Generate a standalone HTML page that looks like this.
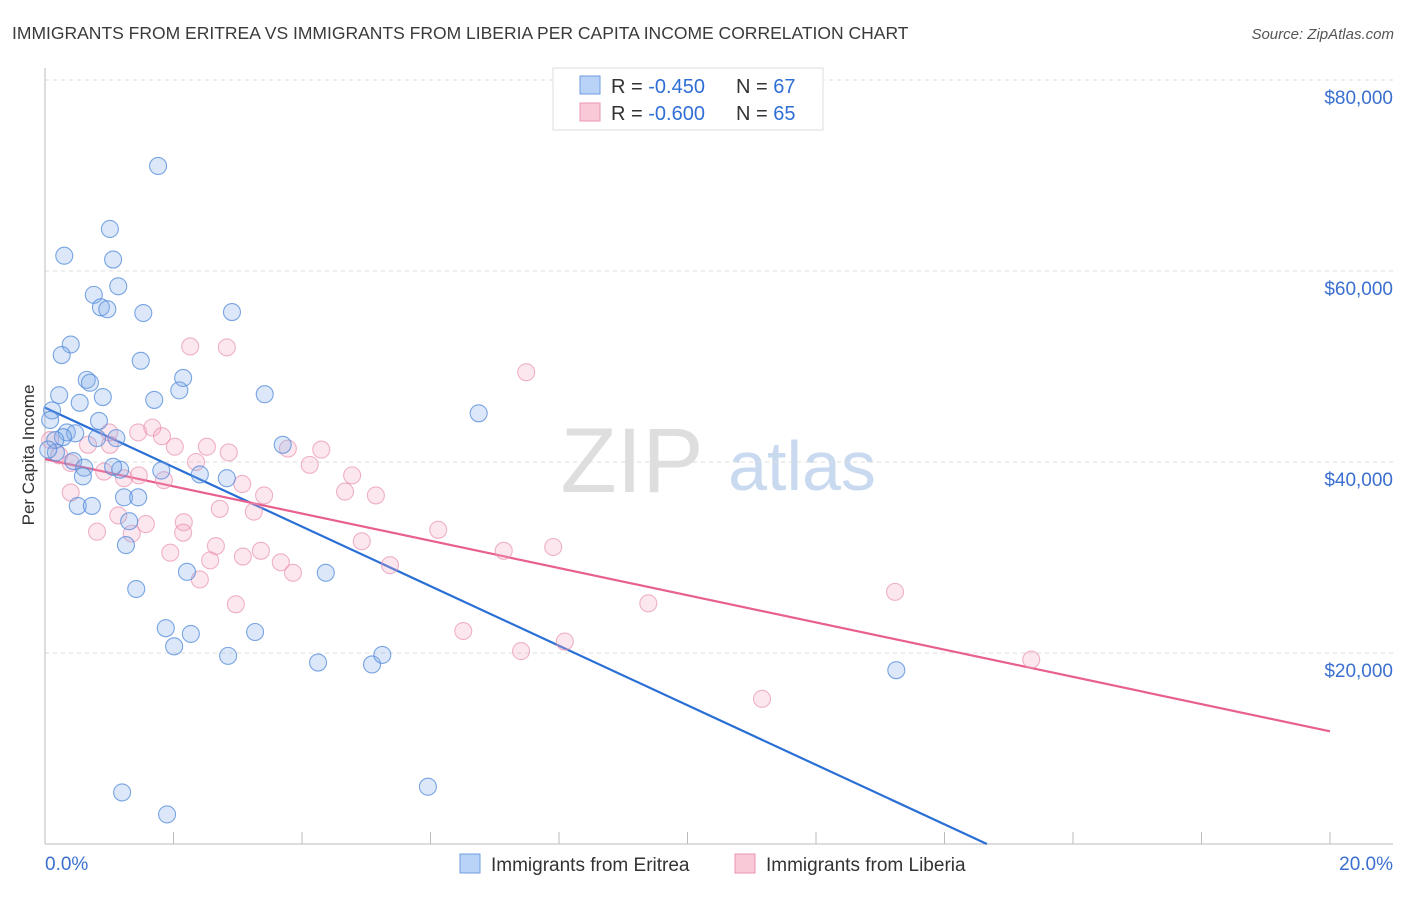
<!DOCTYPE html>
<html><head><meta charset="utf-8"><style>
body{margin:0;background:#fff;font-family:"Liberation Sans",sans-serif;}
svg text{font-family:"Liberation Sans",sans-serif;}
</style></head><body>
<svg id="chart" width="1406" height="892" xmlns="http://www.w3.org/2000/svg">
<text x="12" y="39" font-size="17.5" fill="#3a3a3a">IMMIGRANTS FROM ERITREA VS IMMIGRANTS FROM LIBERIA PER CAPITA INCOME CORRELATION CHART</text>
<text x="1394" y="39" font-size="15" fill="#555" text-anchor="end" font-style="italic">Source: ZipAtlas.com</text>
<text transform="translate(34,455) rotate(-90)" font-size="17" fill="#333" text-anchor="middle">Per Capita Income</text>
<g>
<text x="632" y="492" font-size="92" fill="#dedede" text-anchor="middle" font-family="Liberation Serif">ZIP</text>
<text x="802" y="490" font-size="70" fill="#c9daf0" text-anchor="middle">atlas</text>
</g>
<g id="grid"></g><g id="axes"></g><g id="lines"></g><g id="points"></g>
<g>
<rect x="553" y="68" width="270" height="62" fill="#fff" stroke="#ddd"/>
<rect x="580" y="76" width="20" height="18" fill="#b9d3f6" stroke="#6f9ee0"/>
<text x="611" y="93" font-size="20" fill="#333">R = <tspan fill="#2f6fd6">-0.450</tspan></text>
<text x="736" y="93" font-size="20" fill="#333">N = <tspan fill="#2f6fd6">67</tspan></text>
<rect x="580" y="103" width="20" height="18" fill="#f9c9d8" stroke="#e994b1"/>
<text x="611" y="120" font-size="20" fill="#333">R = <tspan fill="#2f6fd6">-0.600</tspan></text>
<text x="736" y="120" font-size="20" fill="#333">N = <tspan fill="#2f6fd6">65</tspan></text>
</g>
<g>
<rect x="460" y="854" width="20" height="19" fill="#b9d3f6" stroke="#6f9ee0"/>
<text x="491" y="871" font-size="19" fill="#333">Immigrants from Eritrea</text>
<rect x="735" y="854" width="20" height="19" fill="#f9c9d8" stroke="#e994b1"/>
<text x="766" y="871" font-size="19" fill="#333">Immigrants from Liberia</text>
</g>
</svg>
<script>
const yTicks=[20000,40000,60000,80000];
const yTickLabels=["$20,000","$40,000","$60,000","$80,000"];
const xTicks=[0,2,4,6,8,10,12,14,16,18,20];
const eritreaX=[1.76,0.30,1.01,1.06,1.14,0.76,0.87,0.97,1.53,2.91,0.40,0.26,1.49,0.65,2.15,0.70,2.09,1.70,0.90,3.42,0.22,0.54,0.11,0.08,0.84,6.75,0.34,0.47,0.28,0.81,1.11,3.70,0.16,0.17,0.44,0.61,0.59,1.17,1.81,2.41,2.83,1.23,1.45,0.51,0.73,1.31,1.26,1.42,2.21,4.37,1.88,2.27,2.01,3.27,2.85,4.25,5.09,5.25,13.25,1.20,5.96,1.90,0.05,1.06];
const eritreaY=[71.0,61.6,64.4,61.2,58.4,57.5,56.2,56.0,55.6,55.7,52.3,51.2,50.6,48.6,48.8,48.3,47.5,46.5,46.8,47.1,47.0,46.2,45.4,44.4,44.3,45.1,43.1,43.0,42.6,42.5,42.5,41.8,42.3,41.0,40.1,39.4,38.5,39.2,39.1,38.7,38.3,36.3,36.3,35.4,35.4,33.8,31.3,26.7,28.5,28.4,22.6,22.0,20.7,22.2,19.7,19.0,18.8,19.8,18.2,5.4,6.0,3.1,41.3,39.5];
const liberiaX=[2.26,2.83,7.49,0.08,0.22,0.40,0.67,1.01,1.00,1.45,1.67,1.82,2.02,2.52,2.86,2.35,3.78,4.30,4.12,4.78,3.07,1.85,1.23,0.92,1.46,0.40,3.41,5.15,4.67,1.14,1.57,2.16,2.72,3.25,0.81,1.35,1.95,2.66,3.36,4.93,6.12,7.14,7.91,2.57,3.08,3.67,3.86,2.41,5.37,9.39,2.97,6.51,7.41,8.09,13.23,15.35,11.16,2.15];
const liberiaY=[52.1,52.0,49.4,42.3,40.7,39.9,41.8,41.8,43.1,43.1,43.6,42.7,41.6,41.6,41.0,40.0,41.4,41.3,39.7,38.6,37.7,38.1,38.3,39.0,38.6,36.8,36.5,36.5,36.9,34.4,33.5,33.7,35.1,34.8,32.7,32.5,30.5,31.2,30.7,31.7,32.9,30.7,31.1,29.7,30.1,29.5,28.4,27.7,29.2,25.2,25.1,22.3,20.2,21.2,26.4,19.3,15.2,32.6];
const eritreaTrendX=[0,14.66];
const eritreaTrendY=[45.7,0];
const liberiaTrendX=[0,20];
const liberiaTrendY=[40.3,11.8];

const NS="http://www.w3.org/2000/svg";
const sx=v=>45+v/20*1285;
const sy=v=>844-v/80000*764;
const syk=v=>sy(v*1000);
function mk(tag,attrs,parent){const e=document.createElementNS(NS,tag);for(const k in attrs)e.setAttribute(k,attrs[k]);document.getElementById(parent).appendChild(e);return e;}
yTicks.forEach((t,i)=>{
 const g=mk('line',{x1:45,x2:1393,y1:sy(t),y2:sy(t),stroke:'#ddd','stroke-dasharray':'4,4'},'grid');
 
 
 const l=mk('text',{x:1393,y:sy(t)+24,'font-size':19,fill:'#3b6fd0','text-anchor':'end'},'axes');
 l.textContent=yTickLabels[i];
 
 
});
const ax=mk('line',{x1:45,x2:1393,y1:844,y2:844,stroke:'#bbb'},'axes');


const ay=mk('line',{x1:45,x2:45,y1:68,y2:844,stroke:'#bbb'},'axes');


xTicks.forEach(t=>{
 const tk=mk('line',{x1:sx(t),x2:sx(t),y1:832,y2:844,stroke:'#bbb'},'axes');
 
 
});
const x0=mk('text',{x:45,y:870,'font-size':19,fill:'#3b6fd0'},'axes');x0.textContent=xTicks[0].toFixed(1)+'%';


const x1=mk('text',{x:1393,y:870,'font-size':19,fill:'#3b6fd0','text-anchor':'end'},'axes');x1.textContent=xTicks[xTicks.length-1].toFixed(1)+'%';


function dots(xs,ys,fill,stroke,name){
 xs.forEach((x,i)=>{
  const c=mk('circle',{cx:sx(x),cy:syk(ys[i]),r:8.5,fill:fill,stroke:stroke,'stroke-width':1.1},'points');
  
  
 });
}
dots(liberiaX,liberiaY,'rgba(244,170,195,0.28)','rgba(230,140,172,0.65)','liberia-point');
dots(eritreaX,eritreaY,'rgba(130,172,235,0.28)','rgba(80,138,218,0.75)','eritrea-point');
const tb=mk('line',{x1:sx(eritreaTrendX[0]),y1:syk(eritreaTrendY[0]),x2:sx(eritreaTrendX[1]),y2:syk(eritreaTrendY[1]),stroke:'#2a6fd6','stroke-width':2.2},'lines');


const tp=mk('line',{x1:sx(liberiaTrendX[0]),y1:syk(liberiaTrendY[0]),x2:sx(liberiaTrendX[1]),y2:syk(liberiaTrendY[1]),stroke:'#e8608e','stroke-width':2.2},'lines');


</script>
</body></html>
